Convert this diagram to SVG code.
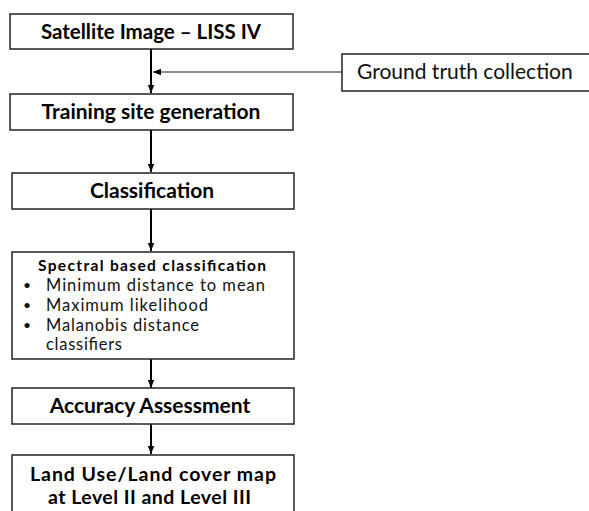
<svg xmlns="http://www.w3.org/2000/svg" width="589" height="511" viewBox="0 0 589 511">
<style>
.box{fill:#fff;stroke:#222;stroke-width:1.5}
.b{font-family:Lato,"Open Sans","Liberation Sans",sans-serif;font-weight:bold;fill:#000;text-anchor:middle}
.bs{font-family:Lato,"Open Sans","Liberation Sans",sans-serif;font-weight:bold;fill:#000;text-anchor:start}
.r{font-family:Lato,"Open Sans","Liberation Sans",sans-serif;fill:#111}
.ln{stroke:#000;stroke-width:2;fill:none}
.ln2{stroke:#222;stroke-width:1.2;fill:none}
</style>
<defs>
<marker id="ah2" viewBox="0 0 10 10" refX="10" refY="5" markerWidth="8" markerHeight="8" orient="auto" markerUnits="userSpaceOnUse"><path d="M0,1L10,5L0,9z" fill="#000"/></marker>
</defs>
<rect width="589" height="511" fill="#fff"/>
<g id="connectors">
<line class="ln" x1="151" y1="49" x2="151" y2="93" marker-end="url(#ah2)"/>
<line class="ln2" x1="342" y1="72" x2="153" y2="72" marker-end="url(#ah2)"/>
<line class="ln" x1="151" y1="130" x2="151" y2="172" marker-end="url(#ah2)"/>
<line class="ln" x1="151" y1="209" x2="151" y2="251" marker-end="url(#ah2)"/>
<line class="ln" x1="151" y1="359" x2="151" y2="388" marker-end="url(#ah2)"/>
<line class="ln" x1="151" y1="424" x2="151" y2="454" marker-end="url(#ah2)"/>
</g>
<g id="n1"><rect class="box" x="10" y="14" width="283" height="35"/><text class="b" x="151" y="38.5" font-size="20.5">Satellite Image – LISS IV</text></g>
<g id="n2"><rect class="box" x="342" y="54" width="250" height="37"/><text class="r" x="357" y="79" font-size="21">Ground truth collection</text></g>
<g id="n3"><rect class="box" x="10" y="94" width="283" height="36"/><text class="b" x="151" y="119" font-size="21">Training site generation</text></g>
<g id="n4"><rect class="box" x="12" y="173" width="282" height="36"/><text class="b" x="152" y="198" font-size="21">Classification</text></g>
<g id="n5"><rect class="box" x="12" y="252" width="282" height="107"/>
<text class="bs" x="38" y="271" font-size="15.5" textLength="228" lengthAdjust="spacing">Spectral based classification</text>
<g class="r" font-size="16.5">
<text x="23" y="290" font-size="14">•</text><text x="46" y="291" textLength="219" lengthAdjust="spacing">Minimum distance to mean</text>
<text x="23" y="310" font-size="14">•</text><text x="46" y="311" textLength="162" lengthAdjust="spacing">Maximum likelihood</text>
<text x="23" y="330" font-size="14">•</text><text x="46" y="331" textLength="153" lengthAdjust="spacing">Malanobis distance</text>
<text x="46" y="350" textLength="76" lengthAdjust="spacing">classifiers</text>
</g></g>
<g id="n6"><rect class="box" x="12" y="388" width="282" height="36"/><text class="b" x="150" y="413" font-size="21">Accuracy Assessment</text></g>
<g id="n7"><rect class="box" x="12" y="455" width="282" height="70"/>
<text class="bs" x="30" y="481" font-size="19.5" textLength="246" lengthAdjust="spacing">Land Use/Land cover map</text>
<text class="bs" x="48" y="504" font-size="19.5" textLength="203" lengthAdjust="spacing">at Level II and Level III</text></g>
</svg>
